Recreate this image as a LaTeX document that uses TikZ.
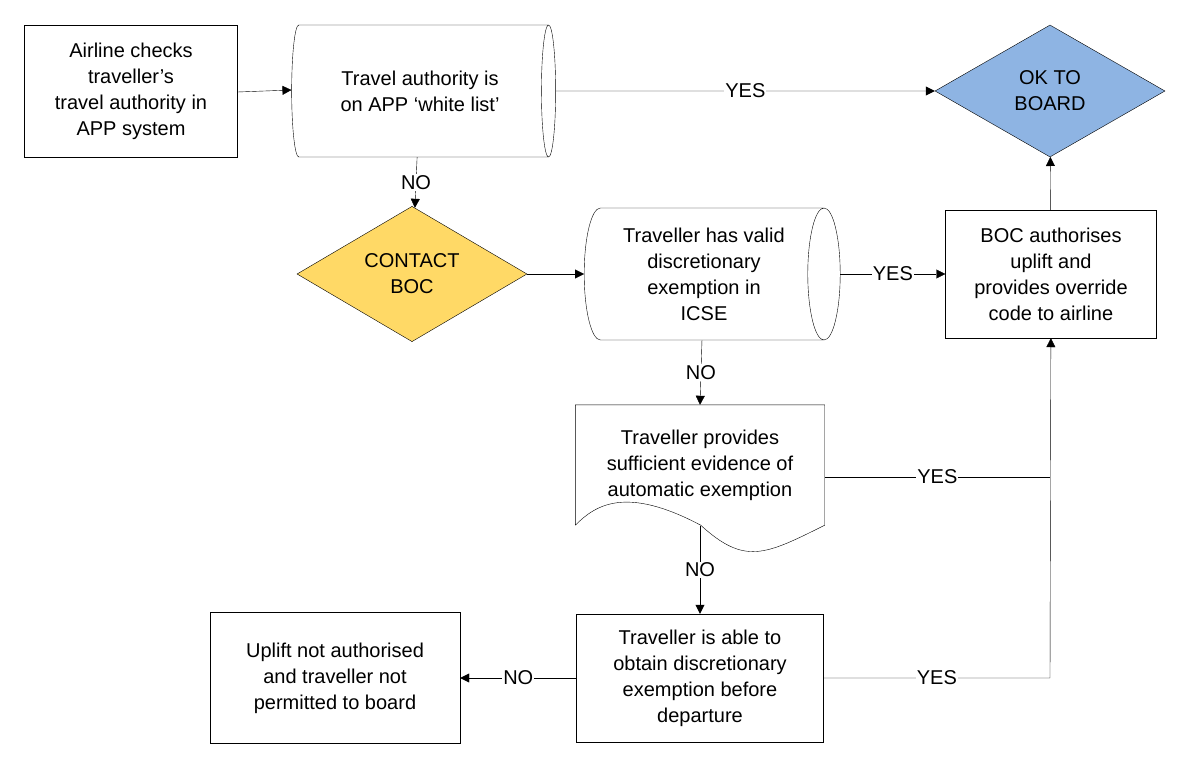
\documentclass[tikz,border=0pt]{standalone}
\usepackage{fontspec}
\setmainfont{Liberation Sans}
\usetikzlibrary{shapes.geometric,arrows.meta}
\definecolor{okblue}{HTML}{8EB4E3}
\definecolor{bocyellow}{HTML}{FFD966}
\begin{document}
\begin{tikzpicture}[x=1pt,y=-1pt, >={Triangle[length=9pt,width=9pt]},
  every node/.style={font=\fontsize{20}{26}\selectfont, align=center},
  box/.style={rectangle, draw, inner sep=0pt},
  store/.style={cylinder, shape border rotate=0, draw, aspect=0.35, inner sep=0pt, minimum width=132pt},
  choice/.style={diamond, draw, inner sep=0pt, minimum width=230pt, minimum height=132pt},
  lbl/.style={fill=white, inner sep=1pt}]
  \useasboundingbox (0,0) rectangle (1192,770);

  \node[box, minimum width=213pt, minimum height=132pt] (A) at (131,91) {Airline checks\\traveller’s\\travel authority in\\APP system};
  \node[store, minimum height=264pt] (B) at (420,91) {Travel authority is\\on APP ‘white list’};
  \node[choice, fill=okblue] (C) at (1050,91) {OK TO\\BOARD};
  \node[choice, fill=bocyellow] (D) at (412,274) {CONTACT\\BOC};
  \node[store, minimum height=256pt] (E) at (704,274) {Traveller has valid\\discretionary\\exemption in\\ICSE};
  \node[box, minimum width=211pt, minimum height=128pt] (F) at (1051,274) {BOC authorises\\uplift and\\provides override\\code to airline};
  \node[minimum width=249pt, minimum height=120pt, inner sep=0pt] (G) at (700,465) {Traveller provides\\sufficient evidence of\\automatic exemption};
  \draw (G.south west) -- (G.north west) -- (G.north east) -- (G.south east)
    .. controls ([xshift=-60pt,yshift=-30pt]G.south east) and ([xshift=-80pt,yshift=-40pt]G.south east) .. ([xshift=-124pt]G.south east)
    .. controls ([xshift=50pt,yshift=40pt]G.south west) and ([xshift=20pt,yshift=20pt]G.south west) .. (G.south west);
  \node[box, minimum width=247pt, minimum height=128pt] (H) at (700,678) {Traveller is able to\\obtain discretionary\\exemption before\\departure};
  \node[box, minimum width=250pt, minimum height=131pt] (I) at (335,678) {Uplift not authorised\\and traveller not\\permitted to board};

  \coordinate (gj) at (1050,477);
  \coordinate (hj) at (1050,678);

  \draw[->] (A.east |- 0,92) -- (B.west |- 0,90);
  \draw[->] (B) -- node[lbl] {YES} (C);
  \draw[->] (B) -- node[lbl] {NO} (D);
  \draw[->] (D) -- (E);
  \draw[->] (E.east |- 0,274) -- node[lbl] {YES} (F);
  \draw[->] (E) -- node[lbl] {NO} (G.north);
  \draw (G.east |- gj) -- node[lbl] {YES} (gj);
  \draw[->] (H) -- node[lbl] {YES} (hj) -- (F);
  \draw[->] (G.south |- 0,526) -- node[lbl] {NO} (H);
  \draw[->] (H) -- node[lbl] {NO} (I);
  \draw[->] (F) -- (C);
\end{tikzpicture}
\end{document}
